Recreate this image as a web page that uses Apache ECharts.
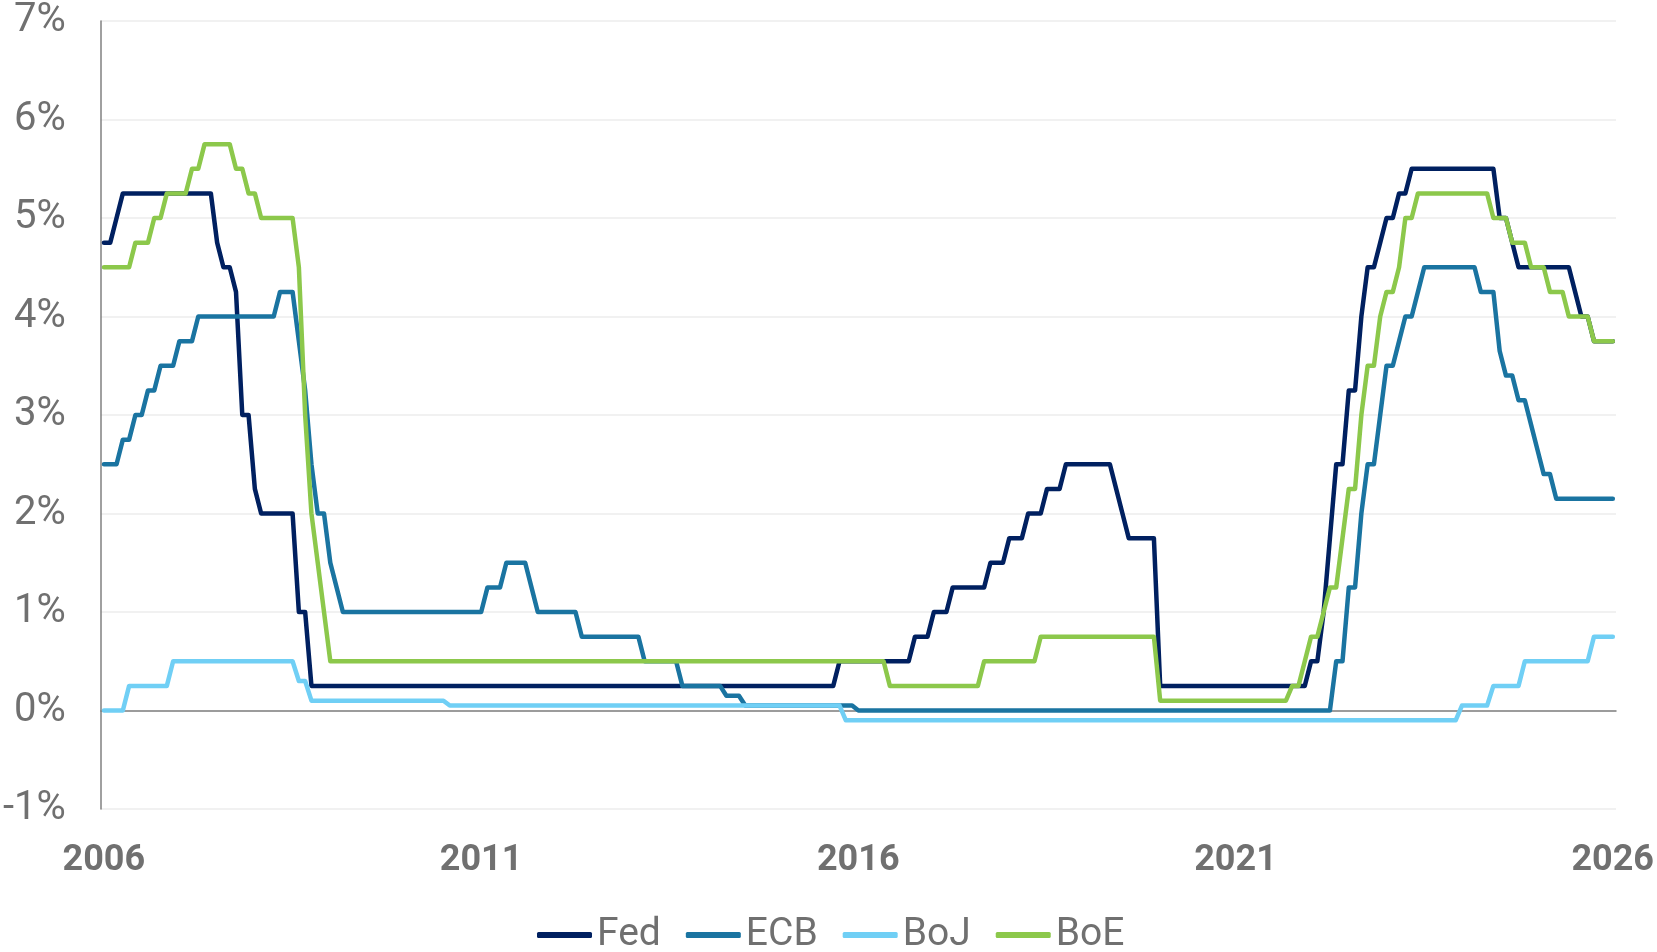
<!DOCTYPE html>
<html>
<head>
<meta charset="utf-8">
<title>Policy rates</title>
<script src="https://cdn.jsdelivr.net/npm/echarts@6/dist/echarts.min.js"></script>
<style>
  html, body { margin: 0; padding: 0; background: #fff; }
  #chart { width: 1657px; height: 952px; }
</style>
</head>
<body>
<div id="chart"></div>
<script>
// monthly policy rates (%), one point per month from Jan 2006 to Jan 2026,
// written as [rate, number of months at that rate]
const fedRuns = [
  [4.75, 2], [5, 1], [5.25, 15], [4.75, 1], [4.5, 2], [4.25, 1], [3, 2], [2.25, 1], [2, 6], [1, 2],
  [0.25, 84], [0.5, 12], [0.75, 3], [1, 3], [1.25, 6], [1.5, 3], [1.75, 3], [2, 3], [2.25, 3], [2.5, 8],
  [2.25, 1], [2, 1], [1.75, 5], [0.25, 24], [0.5, 2], [1, 1], [1.75, 1], [2.5, 2], [3.25, 2], [4, 1],
  [4.5, 2], [4.75, 1], [5, 2], [5.25, 2], [5.5, 14], [5, 2], [4.75, 1], [4.5, 9], [4.25, 1], [4, 2], [3.75, 4]
]
const ecbRuns = [
  [2.5, 3], [2.75, 2], [3, 2], [3.25, 2], [3.5, 3], [3.75, 3], [4, 13], [4.25, 3], [3.75, 1], [3.25, 1],
  [2.5, 1], [2, 2], [1.5, 1], [1.25, 1], [1, 23], [1.25, 3], [1.5, 4], [1.25, 1], [1, 7], [0.75, 10],
  [0.5, 6], [0.25, 7], [0.15, 3], [0.05, 18], [0, 76], [0.5, 2], [1.25, 2], [2, 1], [2.5, 2], [3, 1],
  [3.5, 2], [3.75, 1], [4, 2], [4.25, 1], [4.5, 9], [4.25, 3], [3.65, 1], [3.4, 2], [3.15, 2], [2.9, 1],
  [2.65, 1], [2.4, 2], [2.15, 10]
]
const bojRuns = [
  [0, 4], [0.25, 7], [0.5, 20], [0.3, 2], [0.1, 22], [0.05, 63], [-0.1, 98], [0.05, 5], [0.25, 5],
  [0.5, 11], [0.75, 4]
]
const boeRuns = [
  [4.5, 5], [4.75, 3], [5, 2], [5.25, 4], [5.5, 2], [5.75, 5], [5.5, 2], [5.25, 2], [5, 6], [4.5, 1],
  [3, 1], [2, 1], [1.5, 1], [1, 1], [0.5, 89], [0.25, 15], [0.5, 9], [0.75, 19], [0.1, 21], [0.25, 2],
  [0.5, 1], [0.75, 2], [1, 1], [1.25, 2], [1.75, 1], [2.25, 2], [3, 1], [3.5, 2], [4, 1], [4.25, 2],
  [4.5, 1], [5, 2], [5.25, 12], [5, 3], [4.75, 3], [4.5, 3], [4.25, 3], [4, 4], [3.75, 4]
]
const seriesNames = ['Fed', 'ECB', 'BoJ', 'BoE']
const seriesColors = ['#002060', '#1a74a1', '#70cff5', '#8cc84b']
const firstYear = 2006
const lastYear = 2026

const textColor = '#707070'
const fontFamily = 'Roboto, sans-serif'
let chart = null

// each month sits at its mid-month position on a decimal-year axis
function toPoints(runs) {
  const points = []
  let month = 0
  runs.forEach(([rate, count]) => {
    for (let i = 0; i < count; i++) {
      points.push([firstYear + (month + 0.5) / 12, rate])
      month++
    }
  })
  return points
}

function initChart() {
  chart = echarts.init(document.getElementById('chart'))
  const allRuns = [fedRuns, ecbRuns, bojRuns, boeRuns]
  const xMax = lastYear + 1 / 12

  chart.setOption({
    animation: false,
    grid: { left: 100, right: 39, top: 21, bottom: 143 },
    legend: {
      data: seriesNames,
      left: 532,
      top: 908,
      icon: 'roundRect',
      itemWidth: 55,
      itemHeight: 6,
      itemGap: 25,
      textStyle: {
        fontFamily,
        fontSize: 39,
        lineHeight: 44,
        color: textColor
      }
    },
    xAxis: [{
      type: 'value',
      min: firstYear,
      max: xMax,
      interval: 5,
      axisLine: { show: false, onZero: false },
      axisTick: { show: false },
      splitLine: { show: false },
      axisLabel: {
        margin: 34,
        padding: [0, 0, 0, 6],
        fontFamily,
        fontSize: 36,
        fontWeight: 'bold',
        color: textColor,
        formatter: v => (Number.isInteger(v) ? String(v) : '')
      }
    }, {
      // zero line
      type: 'value',
      min: firstYear,
      max: xMax,
      z: 1,
      axisLine: { show: true, onZero: true, lineStyle: { color: '#808080', width: 1.5 } },
      axisTick: { show: false },
      axisLabel: { show: false },
      splitLine: { show: false }
    }],
    yAxis: {
      type: 'value',
      min: -1,
      max: 7,
      interval: 1,
      axisLine: { show: true, lineStyle: { color: '#808080', width: 1.5 } },
      axisTick: { show: false },
      axisLabel: {
        margin: 35,
        fontFamily,
        fontSize: 40,
        color: textColor,
        formatter: '{value}%'
      },
      splitLine: { lineStyle: { color: '#ececec', width: 1.5 } }
    },
    series: seriesNames.map((name, i) => ({
      name,
      type: 'line',
      xAxisIndex: 0,
      data: toPoints(allRuns[i]),
      symbol: 'none',
      showSymbol: false,
      itemStyle: { color: seriesColors[i] },
      lineStyle: { color: seriesColors[i], width: 4.5, cap: 'round', join: 'round' },
      emphasis: { disabled: true }
    }))
  })
}

initChart()
window.addEventListener('resize', () => { chart && chart.resize() })
</script>
</body>
</html>
